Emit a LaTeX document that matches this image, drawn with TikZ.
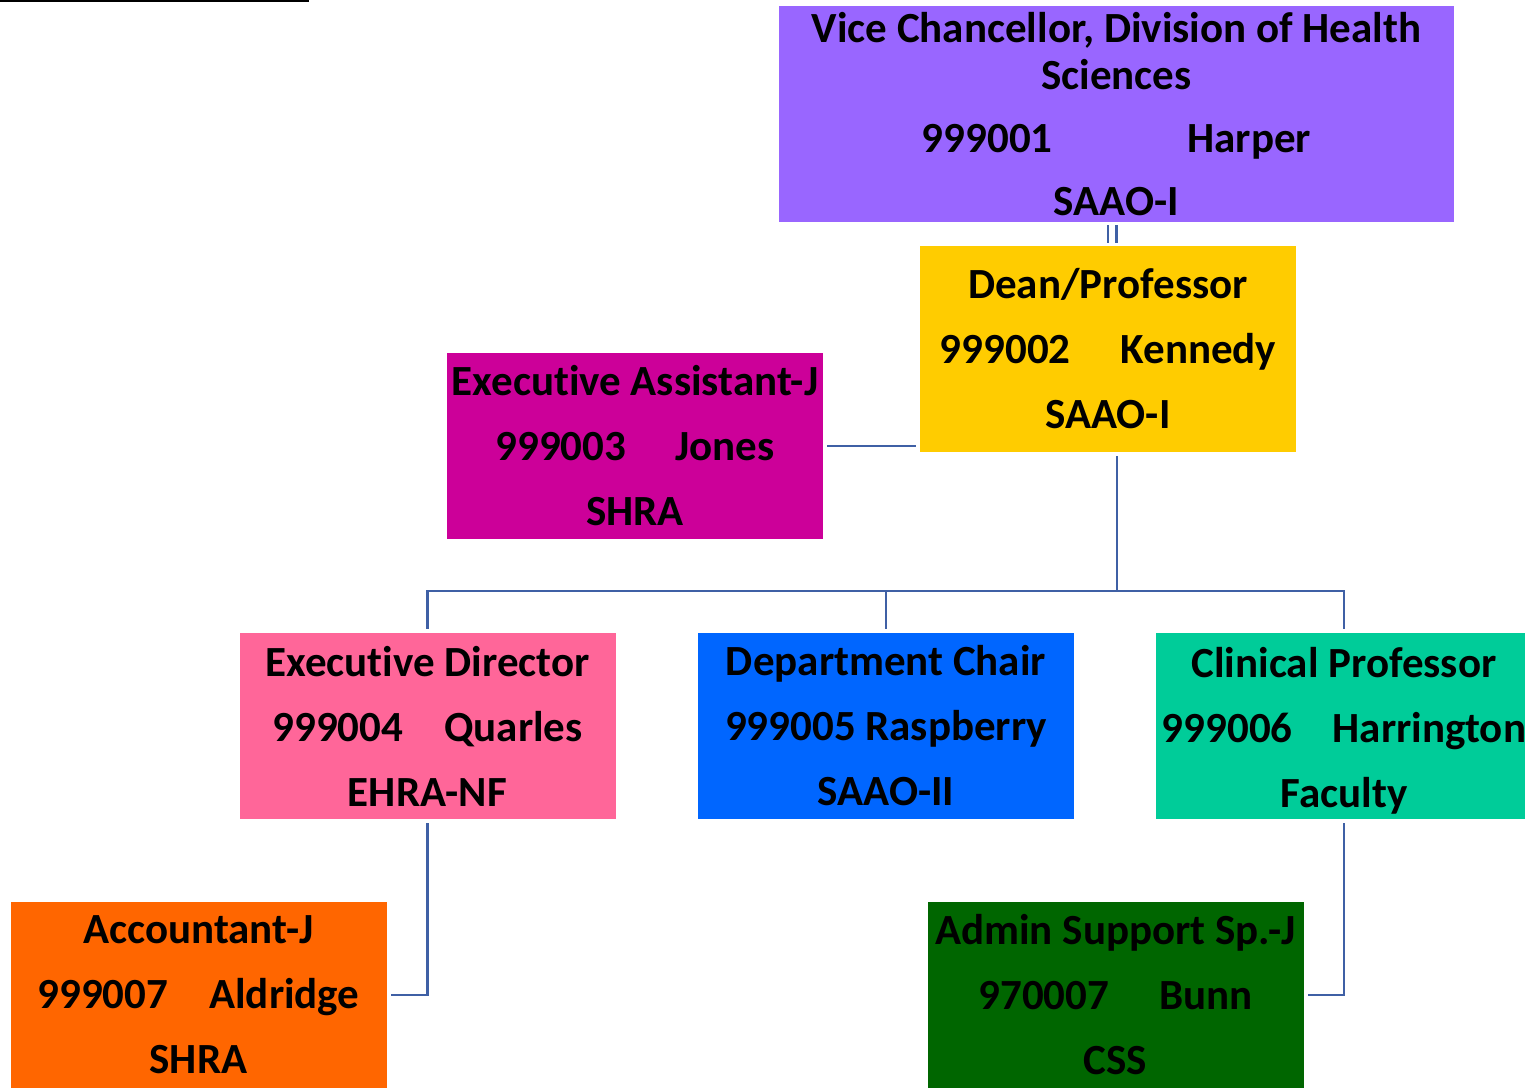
\documentclass[tikz,border=0pt]{standalone}
\usepackage{fontspec}
\setmainfont{Carlito}[Ligatures=NoCommon]
\usetikzlibrary{calc}
\definecolor{vcpurple}{HTML}{9966FF}
\definecolor{deanyellow}{HTML}{FFCC00}
\definecolor{eamagenta}{HTML}{CC0099}
\definecolor{edpink}{HTML}{FF6699}
\definecolor{dcblue}{HTML}{0066FF}
\definecolor{cpgreen}{HTML}{00CC99}
\definecolor{accorange}{HTML}{FF6600}
\definecolor{admgreen}{HTML}{006600}
\definecolor{lnkblue}{RGB}{63,96,165}
\begin{document}
\begin{tikzpicture}[
  x=1pt, y=-1pt,
  bnode/.style={rectangle, text centered, align=center, inner sep=0pt,
    minimum width=376pt, minimum height=186pt,
    font=\fontsize{43}{47}\selectfont\bfseries},
  lnk/.style={-, line width=2.5pt, draw=lnkblue, shorten <=4pt, shorten >=4pt}
  ]

\useasboundingbox (0,0) rectangle (1525,1087);
\draw [line width=2.5pt] (0,1) -- (309,1);

\node [bnode, fill=vcpurple, minimum width=675pt, minimum height=216pt] (vc) at (1116.5,114)
  {Vice Chancellor, Division of Health\\Sciences\\[16pt]999001\hspace{135pt}Harper\\[16pt]SAAO-I};
\node [bnode, fill=deanyellow, minimum height=206pt] (dean) at (1108,349)
  {Dean/Professor\\[18pt]999002\hspace{50pt}Kennedy\\[18pt]SAAO-I};
\node [bnode, fill=eamagenta] (ea) at (635,446)
  {Executive Assistant-J\\[18pt]999003\hspace{49pt}Jones\\[18pt]SHRA};
\node [bnode, fill=edpink] (ed) at (427.5,726)
  {Executive Director\\[18pt]999004\hspace{41pt}Quarles\\[18pt]EHRA-NF};
\node [bnode, fill=dcblue] (dc) at (886,726)
  {Department Chair\\[18pt]999005 Raspberry\\[18pt]SAAO-II};
\node [bnode, fill=cpgreen] (cp) at (1344,726)
  {\rule{0pt}{40pt}Clinical Professor\\[18pt]999006\hspace{40pt}Harrington\\[18pt]Faculty};
\node [bnode, fill=accorange] (acc) at (198.5,995)
  {Accountant-J\\[18pt]999007\hspace{41pt}Aldridge\\[18pt]SHRA};
\node [bnode, fill=admgreen] (adm) at (1115.5,995)
  {Admin Support Sp.-J\\[18pt]970007\hspace{50pt}Bunn\\[18pt]CSS};

\coordinate (bus) at (1117,591);
\coordinate (vcdrop) at ($(vc.south)!0.5!(dean.north)$);

\draw [lnk, double, double distance=6pt, line width=2.5pt, shorten <=3pt, shorten >=3pt]
  (vcdrop |- vc.south) -- (vcdrop |- dean.north);
\draw [lnk] (ea.east) -- (dean.west |- ea.east);
\draw [lnk, shorten >=0pt] (bus |- dean.south) -- (bus);
\draw [lnk] (ed.north) |- (bus -| cp.north) -- (cp.north);
\draw [lnk, shorten >=0pt] (dc.north) -- (dc.north |- bus);
\draw [lnk] (ed.south) |- (acc.east);
\draw [lnk] (cp.south) |- (adm.east);

\end{tikzpicture}
\end{document}
